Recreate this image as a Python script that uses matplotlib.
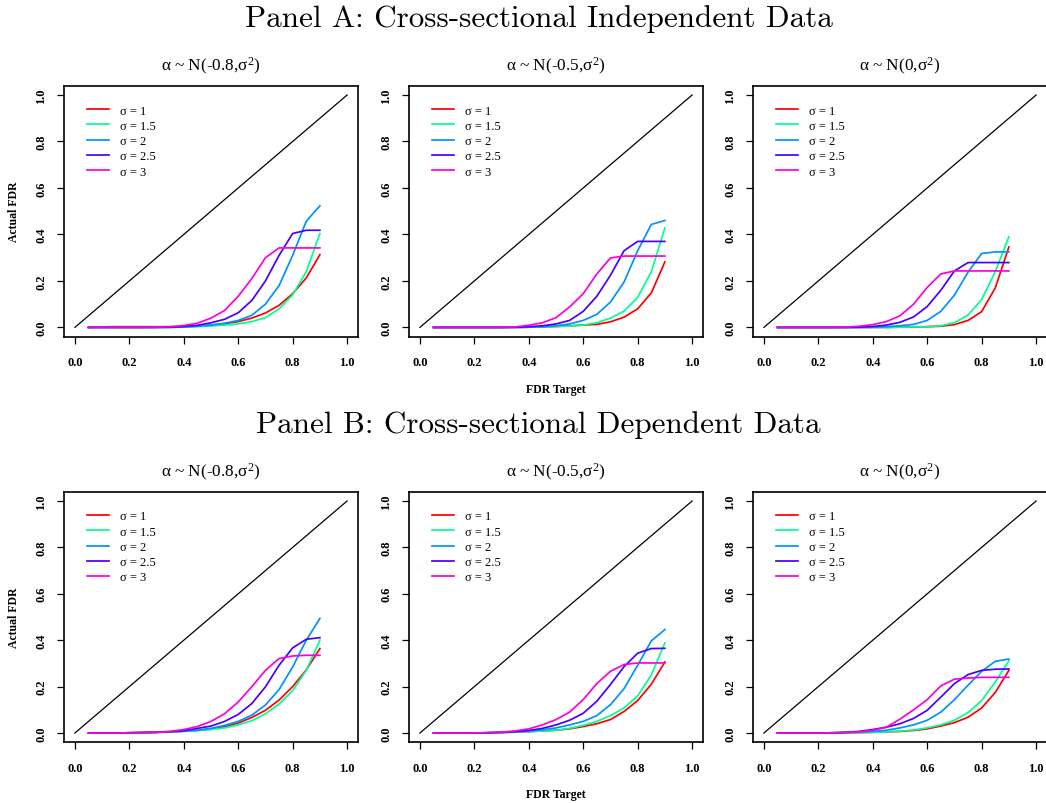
import matplotlib
matplotlib.use("Agg")
import matplotlib.pyplot as plt
import numpy as np

plt.rcParams['mathtext.fontset'] = 'custom'
plt.rcParams['mathtext.rm'] = 'Liberation Serif'
plt.rcParams['mathtext.it'] = 'Liberation Serif:italic'
plt.rcParams['mathtext.bf'] = 'Liberation Serif:bold'

# ---------------- data ----------------
fdr_target = [0.05, 0.10, 0.15, 0.20, 0.25, 0.30, 0.35, 0.40, 0.45,
              0.50, 0.55, 0.60, 0.65, 0.70, 0.75, 0.80, 0.85, 0.90]

sigma_labels = ["σ = 1", "σ = 1.5", "σ = 2", "σ = 2.5", "σ = 3"]
sigma_colors = ["#FF0000", "#00FF92", "#0092FF", "#4900FF", "#FF00DB"]

panel_titles = ["Panel A: Cross-sectional Independent Data",
                "Panel B: Cross-sectional Dependent Data"]
sub_titles = [r"α ~ N(-0.8,σ$^{2}$)", r"α ~ N(-0.5,σ$^{2}$)", r"α ~ N(0,σ$^{2}$)"]

# Panel A, alpha ~ N(-0.8, s^2)
A1_s1 = [0, 0.002, 0.003, 0.003, 0.003, 0.003, 0.003, 0.004, 0.006, 0.010, 0.016, 0.025, 0.040, 0.062, 0.095, 0.145, 0.213, 0.313]
A1_s15 = [0, 0, 0, 0, 0, 0, 0, 0.001, 0.003, 0.006, 0.010, 0.015, 0.025, 0.042, 0.080, 0.140, 0.240, 0.404]
A1_s2 = [0, 0, 0, 0, 0, 0, 0, 0.002, 0.005, 0.010, 0.018, 0.030, 0.052, 0.100, 0.180, 0.310, 0.457, 0.523]
A1_s25 = [0, 0, 0, 0, 0, 0, 0.001, 0.004, 0.009, 0.020, 0.035, 0.063, 0.116, 0.200, 0.310, 0.404, 0.418, 0.418]
A1_s3 = [0, 0, 0, 0, 0, 0.001, 0.003, 0.008, 0.018, 0.040, 0.073, 0.134, 0.210, 0.300, 0.342, 0.342, 0.342, 0.342]

# Panel A, alpha ~ N(-0.5, s^2)
A2_s1 = [0, 0, 0, 0, 0, 0, 0, 0.001, 0.002, 0.004, 0.007, 0.010, 0.013, 0.024, 0.044, 0.080, 0.148, 0.282]
A2_s15 = [0, 0, 0, 0, 0, 0, 0, 0.001, 0.002, 0.004, 0.006, 0.010, 0.020, 0.040, 0.070, 0.129, 0.239, 0.428]
A2_s2 = [0, 0, 0, 0, 0, 0, 0, 0.001, 0.003, 0.007, 0.015, 0.030, 0.056, 0.109, 0.195, 0.330, 0.443, 0.460]
A2_s25 = [0, 0, 0, 0, 0, 0, 0.001, 0.003, 0.007, 0.015, 0.030, 0.069, 0.134, 0.224, 0.330, 0.370, 0.370, 0.370]
A2_s3 = [0, 0, 0, 0, 0, 0, 0.002, 0.009, 0.020, 0.042, 0.088, 0.145, 0.230, 0.299, 0.307, 0.307, 0.307, 0.307]

# Panel A, alpha ~ N(0, s^2)
A3_s1 = [0, 0, 0, 0, 0, 0, 0, 0, 0, 0.001, 0.002, 0.003, 0.005, 0.012, 0.030, 0.068, 0.170, 0.346]
A3_s15 = [0, 0, 0, 0, 0, 0, 0, 0, 0, 0.001, 0.002, 0.003, 0.007, 0.020, 0.053, 0.120, 0.240, 0.390]
A3_s2 = [0, 0, 0, 0, 0, 0, 0, 0.001, 0.003, 0.007, 0.013, 0.030, 0.069, 0.139, 0.238, 0.318, 0.325, 0.325]
A3_s25 = [0, 0, 0, 0, 0, 0, 0.001, 0.004, 0.010, 0.022, 0.045, 0.090, 0.160, 0.243, 0.279, 0.279, 0.279, 0.279]
A3_s3 = [0, 0, 0, 0, 0, 0.001, 0.005, 0.012, 0.025, 0.050, 0.100, 0.172, 0.230, 0.243, 0.243, 0.243, 0.243, 0.243]

# Panel B, alpha ~ N(-0.8, s^2)
B1_s1 = [0, 0, 0, 0.001, 0.002, 0.003, 0.005, 0.008, 0.012, 0.017, 0.027, 0.043, 0.067, 0.098, 0.142, 0.200, 0.272, 0.364]
B1_s15 = [0, 0, 0, 0.001, 0.002, 0.003, 0.004, 0.007, 0.010, 0.015, 0.022, 0.035, 0.053, 0.083, 0.125, 0.183, 0.270, 0.400]
B1_s2 = [0, 0, 0, 0.001, 0.002, 0.003, 0.005, 0.008, 0.012, 0.020, 0.033, 0.050, 0.077, 0.121, 0.187, 0.285, 0.400, 0.494]
B1_s25 = [0, 0, 0, 0.001, 0.002, 0.003, 0.006, 0.010, 0.020, 0.030, 0.050, 0.080, 0.127, 0.199, 0.292, 0.367, 0.404, 0.411]
B1_s3 = [0, 0, 0, 0.001, 0.002, 0.003, 0.007, 0.015, 0.028, 0.050, 0.083, 0.134, 0.200, 0.270, 0.321, 0.332, 0.335, 0.335]

# Panel B, alpha ~ N(-0.5, s^2)
B2_s1 = [0, 0, 0, 0, 0.001, 0.002, 0.004, 0.006, 0.009, 0.012, 0.018, 0.028, 0.040, 0.058, 0.093, 0.140, 0.210, 0.306]
B2_s15 = [0, 0, 0, 0, 0.001, 0.002, 0.004, 0.006, 0.009, 0.012, 0.020, 0.033, 0.050, 0.075, 0.108, 0.160, 0.250, 0.388]
B2_s2 = [0, 0, 0, 0, 0.001, 0.003, 0.005, 0.009, 0.014, 0.022, 0.035, 0.050, 0.075, 0.122, 0.191, 0.292, 0.397, 0.446]
B2_s25 = [0, 0, 0, 0, 0.001, 0.003, 0.006, 0.011, 0.020, 0.035, 0.055, 0.085, 0.137, 0.209, 0.286, 0.344, 0.364, 0.365]
B2_s3 = [0, 0, 0, 0, 0.002, 0.004, 0.009, 0.018, 0.035, 0.058, 0.090, 0.144, 0.213, 0.266, 0.295, 0.302, 0.302, 0.302]

# Panel B, alpha ~ N(0, s^2)
B3_s1 = [0, 0, 0, 0, 0, 0.001, 0.002, 0.003, 0.005, 0.007, 0.011, 0.018, 0.030, 0.045, 0.068, 0.108, 0.175, 0.270]
B3_s15 = [0, 0, 0, 0, 0, 0.001, 0.002, 0.003, 0.005, 0.008, 0.013, 0.022, 0.035, 0.055, 0.088, 0.140, 0.220, 0.311]
B3_s2 = [0, 0, 0, 0, 0.001, 0.002, 0.004, 0.007, 0.012, 0.022, 0.035, 0.055, 0.090, 0.144, 0.206, 0.266, 0.309, 0.319]
B3_s25 = [0, 0, 0, 0, 0.001, 0.003, 0.007, 0.015, 0.025, 0.040, 0.063, 0.098, 0.155, 0.213, 0.252, 0.270, 0.275, 0.276]
B3_s3 = [0, 0, 0, 0, 0.001, 0.003, 0.005, 0.012, 0.025, 0.060, 0.100, 0.144, 0.203, 0.232, 0.237, 0.240, 0.240, 0.240]

panels = [
    [[A1_s1, A1_s15, A1_s2, A1_s25, A1_s3],
     [A2_s1, A2_s15, A2_s2, A2_s25, A2_s3],
     [A3_s1, A3_s15, A3_s2, A3_s25, A3_s3]],
    [[B1_s1, B1_s15, B1_s2, B1_s25, B1_s3],
     [B2_s1, B2_s15, B2_s2, B2_s25, B2_s3],
     [B3_s1, B3_s15, B3_s2, B3_s25, B3_s3]],
]

diag = [0.0, 1.0]
ticks = [0.0, 0.2, 0.4, 0.6, 0.8, 1.0]
tick_labels = ["0.0", "0.2", "0.4", "0.6", "0.8", "1.0"]

# ---------------- figure ----------------
W, H = 1046, 804
fig = plt.figure(figsize=(W / 100, H / 100), dpi=100)

serif = 'Liberation Serif'
lefts = [64, 409, 753]
row_top = [86.7, 492.7]
row_h = [251, 250.6]
ax_w = 294

def fx(px):
    return px / W

def fy(py):
    return 1 - py / H

title_y = [19, 425]
for r in range(2):
    fig.text(0.515, fy(title_y[r]), panel_titles[r], ha='center', va='center',
             family='cmr10', fontsize=22.4)
    for c in range(3):
        ax = fig.add_axes([fx(lefts[c]), fy(row_top[r] + row_h[r]),
                           fx(ax_w), row_h[r] / H])
        ax.plot(diag, diag, color='black', lw=0.9)
        for vals, lab, col in zip(panels[r][c], sigma_labels, sigma_colors):
            ax.plot(fdr_target, vals, color=col, lw=1.25, label=lab)
        ax.set_xlim(-0.04, 1.04)
        ax.set_ylim(-0.04, 1.04)
        ax.set_xticks(ticks)
        ax.set_yticks(ticks)
        ax.set_xticklabels(tick_labels, family=serif, fontweight='bold', fontsize=9)
        ax.set_yticklabels(tick_labels, family=serif, fontweight='bold', fontsize=9,
                           rotation=90, va='center')
        ax.tick_params(axis='x', direction='out', length=5, width=0.9, pad=9)
        ax.tick_params(axis='y', direction='out', length=5, width=0.9, pad=7)
        for s in ax.spines.values():
            s.set_linewidth(1.2)
        ax.set_title(sub_titles[c], family=serif, fontsize=12.4, pad=11)
        ax.legend(loc='upper left', bbox_to_anchor=(0.078, 0.925),
                  frameon=False, borderpad=0, borderaxespad=0,
                  handlelength=1.76, handletextpad=0.88, labelspacing=0.26,
                  prop={'family': serif, 'size': 9})
        if c == 0:
            ax.set_ylabel("Actual FDR", family=serif, fontweight='bold',
                          fontsize=8.5, labelpad=11)
        if c == 1:
            ax.set_xlabel("FDR Target", family=serif, fontweight='bold',
                          fontsize=8.5, labelpad=10.5)

fig.savefig("out.png", dpi=100)
